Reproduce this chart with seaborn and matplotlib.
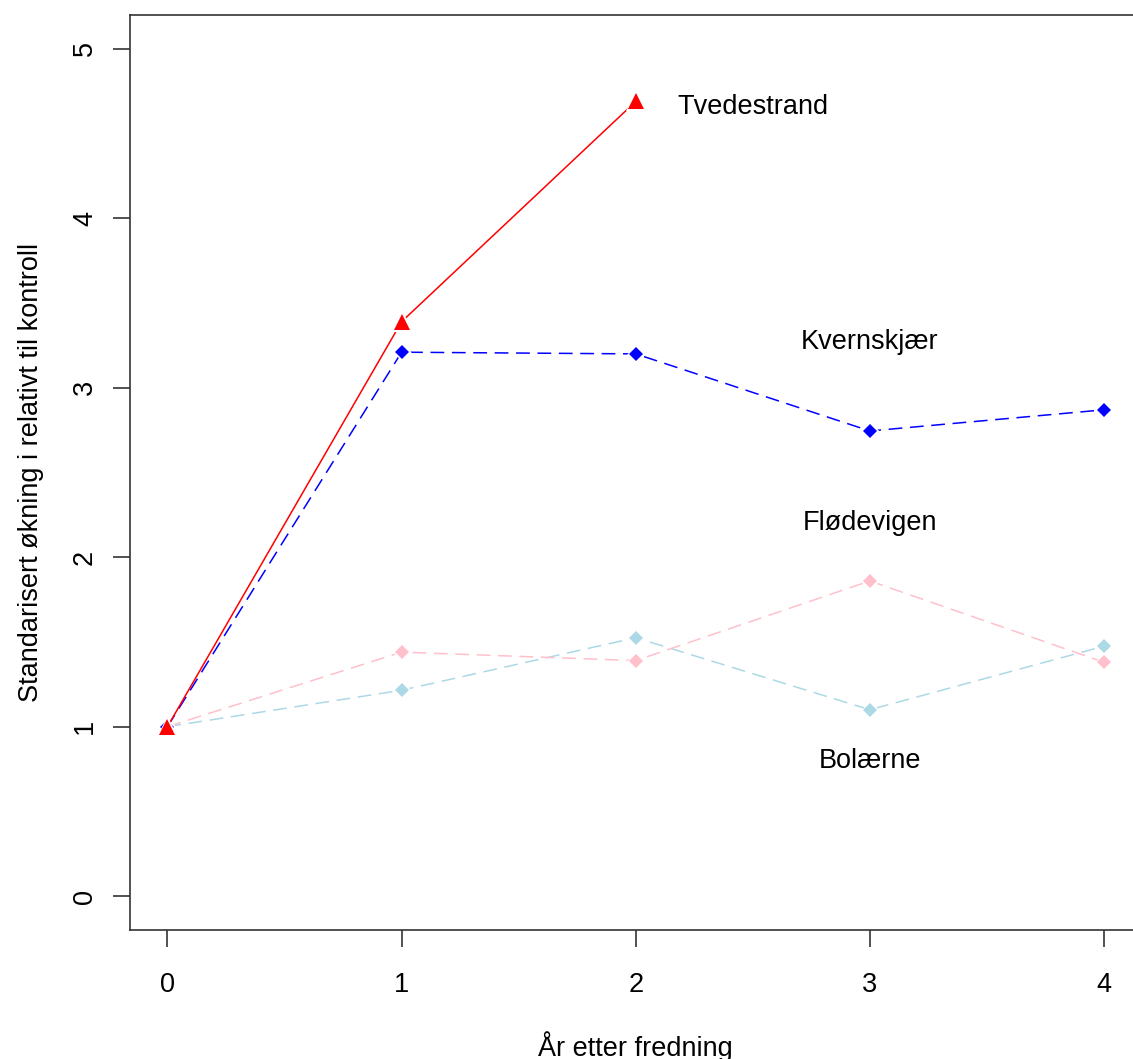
import matplotlib
matplotlib.use("Agg")
import matplotlib.pyplot as plt
import seaborn as sns
import pandas as pd

# Years after protection
years = [0, 1, 2, 3, 4]

# Standardised increase relative to control, per area
tvedestrand = [1.0, 3.39, 4.69]
kvernskjaer = [1.0, 3.21, 3.20, 2.745, 2.87]
flodevigen = [1.0, 1.44, 1.39, 1.86, 1.38]
bolaerne = [1.0, 1.215, 1.525, 1.10, 1.475]

area_names = ["Tvedestrand", "Kvernskjær", "Flødevigen", "Bolærne"]
area_values = [tvedestrand, kvernskjaer, flodevigen, bolaerne]
area_colors = ["red", "blue", "pink", "lightblue"]
area_markers = ["^", "D", "D", "D"]
area_solid = [True, False, False, False]

# Label placement (data coordinates)
label_x = [2.5, 3.0, 3.0, 3.0]
label_y = [4.66, 3.27, 2.2, 0.8]

sns.set_style("white")
plt.rcParams["font.family"] = ["Liberation Sans", "DejaVu Sans"]
plt.rcParams["text.color"] = "black"
plt.rcParams["axes.labelcolor"] = "black"
plt.rcParams["xtick.color"] = "black"
plt.rcParams["ytick.color"] = "black"

fig = plt.figure(figsize=(11.33, 10.59), dpi=100)
ax = fig.add_axes([130 / 1133, 1 - 930 / 1059, 1011.5 / 1133, 915 / 1059])

# Draw in reverse order so Tvedestrand sits on top
for name, vals, col, mk, solid in reversed(list(zip(area_names, area_values, area_colors,
                                                    area_markers, area_solid))):
    df = pd.DataFrame({"year": years[:len(vals)], "value": vals})
    msize = 11 if mk == "^" else 7.5
    sns.lineplot(data=df, x="year", y="value", ax=ax, color=col, linewidth=1.1,
                 marker=mk, markersize=msize,
                 markeredgecolor="white", markeredgewidth=2.2,
                 linestyle="-" if solid else (0, (9, 5)), legend=False)
    # redraw markers without the white ring so they stay crisp
    ax.plot(df["year"], df["value"], linestyle="none", marker=mk, color=col,
            markersize=msize, markeredgewidth=0)

for name, lx, ly in zip(area_names, label_x, label_y):
    ax.text(lx, ly, name, ha="center", va="center", fontsize=19.5, color="black")

ax.set_xlim(-0.16, 4.16)
ax.set_ylim(-0.2, 5.2)
ax.set_xticks(years)
ax.set_yticks([0, 1, 2, 3, 4, 5])
ax.set_xticklabels([str(v) for v in years])
ax.set_yticklabels([str(v) for v in range(6)], rotation=90, va="center")

ax.tick_params(axis="both", which="both", direction="out", length=12, width=1.2,
               color="#333333", labelcolor="black", labelsize=19.5, pad=18,
               bottom=True, left=True, top=False, right=False)
ax.tick_params(axis="y", pad=11)

for sp in ax.spines.values():
    sp.set_visible(True)
    sp.set_color("#333333")
    sp.set_linewidth(1.2)

ax.set_xlabel("År etter fredning", fontsize=19.5, labelpad=24)
ax.set_ylabel("Standarisert økning i relativt til kontroll", fontsize=19.5, labelpad=20)
ax.grid(False)

fig.savefig("out.png", dpi=100)
